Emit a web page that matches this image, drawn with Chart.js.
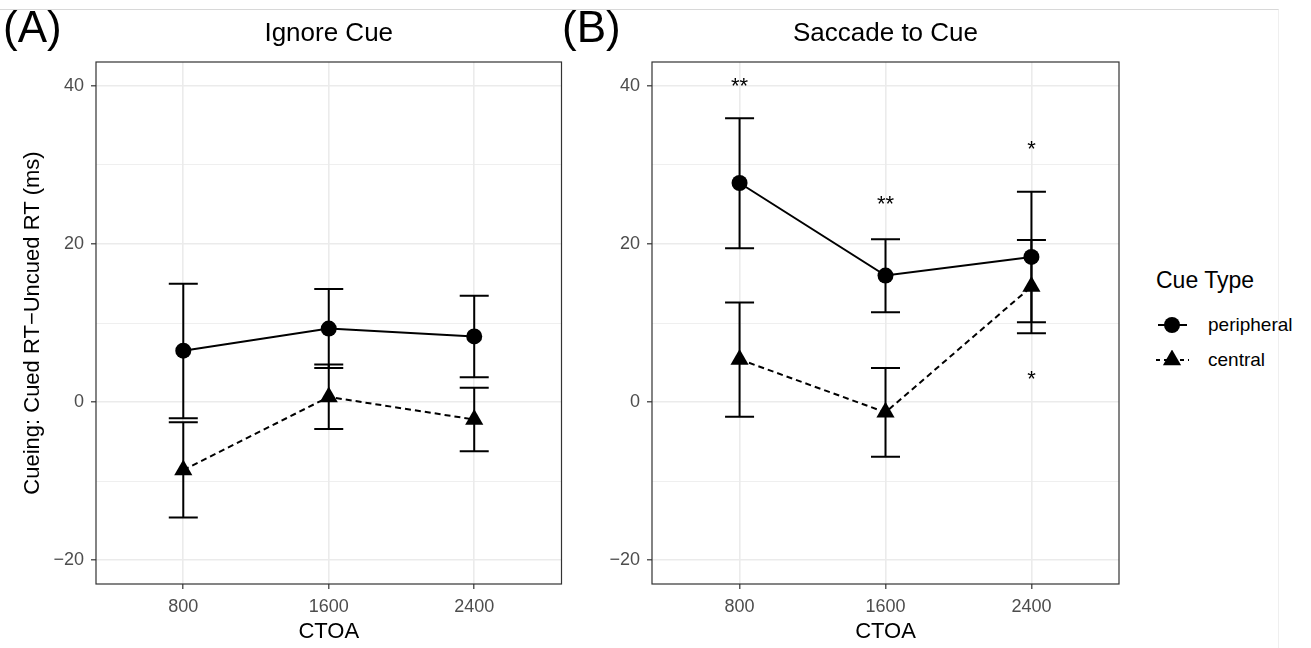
<!DOCTYPE html>
<html>
<head>
<meta charset="utf-8">
<script src="https://cdn.jsdelivr.net/npm/chart.js@4.4.0/dist/chart.umd.min.js"></script>
<style>
  body { margin: 0; background: #fff; font-family: "Liberation Sans", Arial, Helvetica, sans-serif; }
  #page { position: relative; width: 1311px; height: 648px; overflow: hidden; background: #fff; }
  #edge { position: absolute; left: 0; top: 9px; width: 1279px; height: 700px; box-sizing: border-box;
          border-top: 1px solid #d8d8d8; border-right: 1px solid #efefef; }
  .panel { position: absolute; top: 0; height: 648px; }
  .lg { position: absolute; color: #000; white-space: nowrap; }
  .lg-title { font-size: 23px; line-height: 26px; }
  .lg-text { font-size: 19px; line-height: 22px; }
</style>
</head>
<body>
<div id="page">
  <div id="edge"></div>
  <div class="panel" style="left:0;width:572px"><canvas id="chart-a"></canvas></div>
  <div class="panel" style="left:562px;width:568px"><canvas id="chart-b"></canvas></div>

  <div class="lg lg-title" style="left:1156px;top:267px">Cue Type</div>
  <svg class="lg" style="left:1155px;top:315px" width="36" height="20">
    <line x1="3" y1="10" x2="32" y2="10" stroke="#000" stroke-width="2"/>
    <circle cx="17" cy="10" r="8" fill="#000"/>
  </svg>
  <div class="lg lg-text" style="left:1208px;top:314px">peripheral</div>
  <svg class="lg" style="left:1155px;top:350px" width="36" height="20">
    <line x1="1" y1="10" x2="34" y2="10" stroke="#000" stroke-width="2" stroke-dasharray="4 4"/>
    <polygon points="17,-0.5 26.1,15.25 7.9,15.25" fill="#000"/>
  </svg>
  <div class="lg lg-text" style="left:1208px;top:349px">central</div>
</div>

<script>
const FONT = '"Liberation Sans", Arial, Helvetica, sans-serif';

// x categories (CTOA) and y grid
const ctoa = [800, 1600, 2400];
const yGrid = [-20, -10, 0, 10, 20, 30, 40];
const yLabeled = [-20, 0, 20, 40];

// (A) Ignore Cue
const ignorePeripheral = [6.5, 9.3, 8.3];
const ignorePeripheralLow = [-2.05, 4.3, 3.15];
const ignorePeripheralHigh = [14.95, 14.3, 13.45];
const ignoreCentral = [-8.6, 0.65, -2.2];
const ignoreCentralLow = [-14.6, -3.4, -6.2];
const ignoreCentralHigh = [-2.55, 4.75, 1.8];

// (B) Saccade to Cue
const saccadePeripheral = [27.7, 16.0, 18.35];
const saccadePeripheralLow = [19.45, 11.35, 10.1];
const saccadePeripheralHigh = [35.9, 20.6, 26.6];
const saccadeCentral = [5.4, -1.3, 14.6];
const saccadeCentralLow = [-1.85, -6.9, 8.7];
const saccadeCentralHigh = [12.6, 4.3, 20.5];

// significance marks in (B)
const sigX = [800, 1600, 2400, 2400];
const sigY = [40.7, 25.7, 32.7, 3.6];
const sigText = ["**", "**", "*", "*"];

function series(label, means, low, high, central) {
  return {
    label: label,
    data: ctoa.map((x, i) => ({ x: x, y: means[i] })),
    errLow: low,
    errHigh: high,
    borderColor: "#000",
    backgroundColor: "#000",
    borderWidth: 2,
    borderDash: central ? [6, 4] : [],
    pointStyle: central ? "triangle" : "circle",
    pointRadius: central ? 10.5 : 8,
    pointBorderWidth: 0,
    pointBackgroundColor: "#000",
    tension: 0,
    fill: false,
  };
}

function makePanel(canvasId, cfg) {
  // error bars, frame, titles, stars
  const deco = {
    id: "deco_" + canvasId,
    beforeDatasetsDraw(chart) {
      const ctx = chart.ctx, xs = chart.scales.x, ys = chart.scales.y;
      ctx.save();
      ctx.strokeStyle = "#000";
      ctx.lineWidth = 2;
      chart.data.datasets.forEach((ds) => {
        ctoa.forEach((c, i) => {
          const px = xs.getPixelForValue(c);
          const lo = ys.getPixelForValue(ds.errLow[i]);
          const hi = ys.getPixelForValue(ds.errHigh[i]);
          ctx.beginPath();
          ctx.moveTo(px, lo); ctx.lineTo(px, hi);
          ctx.moveTo(px - 14.5, lo); ctx.lineTo(px + 14.5, lo);
          ctx.moveTo(px - 14.5, hi); ctx.lineTo(px + 14.5, hi);
          ctx.stroke();
        });
      });
      ctx.restore();
    },
    afterDatasetsDraw(chart) {
      const ctx = chart.ctx, a = chart.chartArea;
      ctx.save();
      ctx.strokeStyle = "#333";
      ctx.lineWidth = 1.2;
      ctx.strokeRect(a.left, a.top, a.right - a.left, a.bottom - a.top);
      if (cfg.stars) {
        const xs = chart.scales.x, ys = chart.scales.y;
        ctx.fillStyle = "#000";
        ctx.font = "22px " + FONT;
        ctx.textAlign = "center";
        ctx.textBaseline = "alphabetic";
        sigText.forEach((t, i) => {
          ctx.fillText(t, xs.getPixelForValue(sigX[i]), ys.getPixelForValue(sigY[i]) + 12.6);
        });
      }
      ctx.restore();
    },
    afterDraw(chart) {
      const ctx = chart.ctx, a = chart.chartArea;
      ctx.save();
      ctx.fillStyle = "#000";
      ctx.textBaseline = "middle";
      ctx.textAlign = "center";
      ctx.font = "26px " + FONT;
      ctx.fillText(cfg.title, (a.left + a.right) / 2, 34);
      ctx.textAlign = "left";
      ctx.font = "44px " + FONT;
      ctx.fillText(cfg.tag, cfg.tagX, 30);
      ctx.restore();
    },
  };

  return new Chart(document.getElementById(canvasId), {
    type: "line",
    data: { datasets: cfg.datasets },
    options: {
      responsive: true,
      maintainAspectRatio: false,
      animation: false,
      events: [],
      layout: { padding: { top: 62, right: cfg.padRight, bottom: 0, left: 0 } },
      plugins: { legend: { display: false }, tooltip: { enabled: false } },
      scales: {
        x: {
          type: "linear",
          min: 320,
          max: 2880,
          afterBuildTicks: (s) => { s.ticks = ctoa.map((v) => ({ value: v })); },
          afterFit: (s) => { s.height = 64; },
          ticks: {
            color: "#4d4d4d",
            font: { family: FONT, size: 18 },
            padding: 7,
            maxRotation: 0,
            autoSkip: false,
            callback: (v) => String(v),
          },
          grid: { color: "#ebebeb", lineWidth: 1.6, tickColor: "#333", tickLength: 5, tickWidth: 1.2 },
          border: { display: false },
          title: {
            display: true,
            text: "CTOA",
            color: "#000",
            font: { family: FONT, size: 22 },
            padding: { top: 0, bottom: 3 },
          },
        },
        y: {
          type: "linear",
          min: -23,
          max: 43,
          afterBuildTicks: (s) => { s.ticks = yGrid.map((v) => ({ value: v })); },
          afterFit: (s) => { s.width = cfg.axisWidth; },
          ticks: {
            color: "#4d4d4d",
            font: { family: FONT, size: 18 },
            padding: 7,
            autoSkip: false,
            callback: (v) => (yLabeled.includes(v) ? String(v).replace("-", "\u2212") : ""),
          },
          grid: {
            color: "#ebebeb",
            lineWidth: (c) => (c.tick && yLabeled.includes(c.tick.value) ? 1.6 : 0.8),
            tickColor: (c) => (c.tick && yLabeled.includes(c.tick.value) ? "#333" : "rgba(0,0,0,0)"),
            tickLength: 5,
            tickWidth: 1.2,
          },
          border: { display: false },
          title: {
            display: cfg.yTitle !== "",
            text: cfg.yTitle,
            color: "#000",
            font: { family: FONT, size: 22 },
            padding: { top: 20, bottom: 0 },
          },
        },
      },
    },
    plugins: [deco],
  });
}

makePanel("chart-a", {
  title: "Ignore Cue",
  tag: "(A)",
  tagX: 3,
  axisWidth: 96,
  padRight: 1,
  yTitle: "Cueing: Cued RT\u2212Uncued RT (ms)",
  stars: false,
  datasets: [
    series("peripheral", ignorePeripheral, ignorePeripheralLow, ignorePeripheralHigh, false),
    series("central", ignoreCentral, ignoreCentralLow, ignoreCentralHigh, true),
  ],
});

makePanel("chart-b", {
  title: "Saccade to Cue",
  tag: "(B)",
  tagX: 0,
  axisWidth: 90,
  padRight: 11,
  yTitle: "",
  stars: true,
  datasets: [
    series("peripheral", saccadePeripheral, saccadePeripheralLow, saccadePeripheralHigh, false),
    series("central", saccadeCentral, saccadeCentralLow, saccadeCentralHigh, true),
  ],
});
</script>
</body>
</html>
